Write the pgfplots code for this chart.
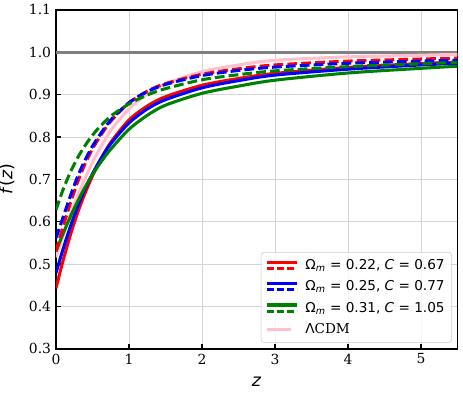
\documentclass[border=0pt]{standalone}
\usepackage{fontspec}
\setmainfont{DejaVu Serif}
\setsansfont{DejaVu Sans}
\usepackage{pgfplots}
\usepackage{pgfplotstable}
\pgfplotsset{compat=1.18}
\definecolor{mgreen}{RGB}{0,128,0}
\definecolor{mpink}{RGB}{255,192,203}
\definecolor{mgray}{RGB}{128,128,128}

% growth rate f(z): solid / dashed variants and LCDM
\pgfplotstableread{
z     rs    bs    gs    rd    bd    gd    lcdm
0     0.443 0.479 0.530 0.530 0.561 0.628 0.516
0.1   0.510 0.537 0.573 0.590 0.612 0.677 0.568
0.2   0.570 0.590 0.613 0.645 0.662 0.718 0.617
0.3   0.623 0.637 0.649 0.695 0.708 0.752 0.662
0.4   0.668 0.678 0.682 0.737 0.746 0.780 0.703
0.5   0.708 0.713 0.711 0.772 0.778 0.804 0.740
0.6   0.743 0.744 0.737 0.800 0.805 0.824 0.772
0.75  0.787 0.784 0.771 0.837 0.840 0.849 0.815
1     0.840 0.833 0.818 0.880 0.881 0.878 0.866
1.25  0.873 0.866 0.851 0.908 0.907 0.899 0.901
1.5   0.895 0.888 0.875 0.926 0.924 0.914 0.925
2     0.922 0.916 0.903 0.948 0.945 0.935 0.954
2.5   0.938 0.933 0.920 0.961 0.957 0.947 0.970
3     0.950 0.946 0.934 0.970 0.965 0.956 0.981
4     0.964 0.960 0.951 0.979 0.974 0.966 0.989
5     0.973 0.970 0.962 0.984 0.979 0.973 0.993
5.5   0.977 0.974 0.967 0.986 0.981 0.976 0.995
}\fz

\pgfplotsset{
  pair legend/.style={legend image code/.code={
    \draw[##1,solid] (0pt,2.2pt) -- (21.6pt,2.2pt);
    \draw[##1,dash pattern=on 5pt off 2.2pt] (0pt,-2.2pt) -- (21.6pt,-2.2pt);}},
}

\begin{document}
\begin{tikzpicture}
\path[use as bounding box] (-40.3pt,-34.6pt) rectangle (293.1pt,251.2pt);
\begin{axis}[
  scale only axis,
  width=289.1pt,height=244.1pt,
  xmin=0,xmax=5.5,ymin=0.3,ymax=1.1,
  xtick={0,1,2,3,4,5},
  ytick={0.3,0.4,0.5,0.6,0.7,0.8,0.9,1.0,1.1},
  yticklabel style={/pgf/number format/.cd,fixed,fixed zerofill,precision=1},
  /pgf/number format/assume math mode=true,
  ticklabel style={font=\fontsize{10}{11}\selectfont},
  xtick pos=left,ytick pos=left,
  tick align=inside,
  major tick length=3.6pt,
  every tick/.style={black,line width=1.1pt},
  axis line style={line width=1.3pt},
  grid=major,
  major grid style={line width=0.6pt,color=black!17},
  xlabel={\textsf{\textit{z}}},
  ylabel={\textsf{\textit{f}(\textit{z})}},
  label style={font=\fontsize{12.5}{14}\selectfont},
  xlabel style={at={(axis description cs:0.5,-0.0975)},anchor=center},
  ylabel style={at={(axis description cs:-0.122,0.5)},anchor=center},
  legend cell align=left,
  legend style={at={(rel axis cs:0.986,0.018)},anchor=south east,
    draw=black!20,rounded corners=2pt,fill=white,fill opacity=0.8,text opacity=1,
    font=\fontsize{9.8}{11}\selectfont,row sep=2.6pt,inner sep=3pt,
    /tikz/every odd column/.append style={column sep=3pt}},
]
\addplot[mgray,line width=2pt,forget plot] coordinates {(0,1) (5.5,1)};
\addplot[mpink,line width=2.2pt,smooth,forget plot] table[x=z,y=lcdm] {\fz};
\addplot[red,line width=2.2pt,smooth,pair legend] table[x=z,y=rs] {\fz};
\addlegendentry{\textsf{Ω\textsubscript{\textit{m}} = 0.22, \textit{C} = 0.67}}
\addplot[blue,line width=2.2pt,smooth,pair legend] table[x=z,y=bs] {\fz};
\addlegendentry{\textsf{Ω\textsubscript{\textit{m}} = 0.25, \textit{C} = 0.77}}
\addplot[mgreen,line width=2.2pt,smooth,pair legend] table[x=z,y=gs] {\fz};
\addlegendentry{\textsf{Ω\textsubscript{\textit{m}} = 0.31, \textit{C} = 1.05}}
\addplot[red,line width=2.2pt,smooth,dash pattern=on 7pt off 3pt,forget plot] table[x=z,y=rd] {\fz};
\addplot[blue,line width=2.2pt,smooth,dash pattern=on 7pt off 3pt,forget plot] table[x=z,y=bd] {\fz};
\addplot[mgreen,line width=2.2pt,smooth,dash pattern=on 7pt off 3pt,forget plot] table[x=z,y=gd] {\fz};
\addlegendimage{mpink,line width=2.2pt}
\addlegendentry{\textsf{Λ}CDM}
\end{axis}
\end{tikzpicture}
\end{document}
